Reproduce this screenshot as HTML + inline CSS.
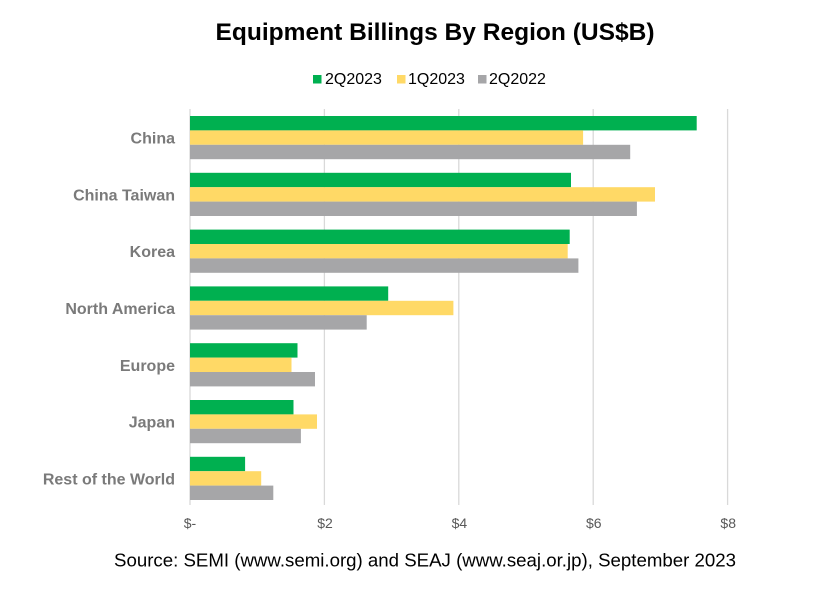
<!DOCTYPE html>
<html>
<head>
<meta charset="utf-8">
<style>
  html, body { margin: 0; padding: 0; background: #ffffff; }
  svg { display: block; }
  text { font-family: "Liberation Sans", Arial, sans-serif; }
</style>
</head>
<body>
<svg width="824" height="592" viewBox="0 0 824 592" xmlns="http://www.w3.org/2000/svg">
  <rect x="0" y="0" width="824" height="592" fill="#ffffff"/>

  <!-- Title -->
  <text x="435" y="40" font-size="24" font-weight="bold" fill="#000000" text-anchor="middle" textLength="439" lengthAdjust="spacingAndGlyphs">Equipment Billings By Region (US$B)</text>

  <!-- Legend -->
  <rect x="313" y="75" width="8.5" height="8.5" fill="#00b050"/>
  <text x="325" y="84" font-size="16" fill="#000000">2Q2023</text>
  <rect x="397" y="75" width="8.5" height="8.5" fill="#ffd966"/>
  <text x="408" y="84" font-size="16" fill="#000000">1Q2023</text>
  <rect x="478" y="75" width="8.5" height="8.5" fill="#a6a6a8"/>
  <text x="489" y="84" font-size="16" fill="#000000">2Q2022</text>

  <!-- Gridlines -->
  <g stroke="#d9d9d9" stroke-width="1.3">
    <line x1="190" y1="109" x2="190" y2="505"/>
    <line x1="324.4" y1="109" x2="324.4" y2="505"/>
    <line x1="458.8" y1="109" x2="458.8" y2="505"/>
    <line x1="593.2" y1="109" x2="593.2" y2="505"/>
    <line x1="727.6" y1="109" x2="727.6" y2="505"/>
  </g>

  <!-- Bars -->
  <rect x="190" y="116" width="506.7" height="14.4" fill="#00b050"/>
  <rect x="190" y="130.4" width="393.1" height="14.4" fill="#ffd966"/>
  <rect x="190" y="144.8" width="440.2" height="14.4" fill="#a6a6a8"/>

  <rect x="190" y="172.8" width="381.0" height="14.4" fill="#00b050"/>
  <rect x="190" y="187.2" width="465.0" height="14.4" fill="#ffd966"/>
  <rect x="190" y="201.6" width="446.9" height="14.4" fill="#a6a6a8"/>

  <rect x="190" y="229.6" width="379.7" height="14.4" fill="#00b050"/>
  <rect x="190" y="244.0" width="377.7" height="14.4" fill="#ffd966"/>
  <rect x="190" y="258.4" width="388.4" height="14.4" fill="#a6a6a8"/>

  <rect x="190" y="286.4" width="198.2" height="14.4" fill="#00b050"/>
  <rect x="190" y="300.8" width="263.4" height="14.4" fill="#ffd966"/>
  <rect x="190" y="315.2" width="176.7" height="14.4" fill="#a6a6a8"/>

  <rect x="190" y="343.2" width="107.5" height="14.4" fill="#00b050"/>
  <rect x="190" y="357.6" width="101.5" height="14.4" fill="#ffd966"/>
  <rect x="190" y="372.0" width="125.0" height="14.4" fill="#a6a6a8"/>

  <rect x="190" y="400.0" width="103.5" height="14.4" fill="#00b050"/>
  <rect x="190" y="414.4" width="127.0" height="14.4" fill="#ffd966"/>
  <rect x="190" y="428.8" width="110.9" height="14.4" fill="#a6a6a8"/>

  <rect x="190" y="456.8" width="55.1" height="14.4" fill="#00b050"/>
  <rect x="190" y="471.2" width="71.2" height="14.4" fill="#ffd966"/>
  <rect x="190" y="485.6" width="83.3" height="14.4" fill="#a6a6a8"/>

  <!-- Category labels -->
  <g font-size="16" font-weight="bold" fill="#7a7a7a" text-anchor="end">
    <text x="175" y="143.6">China</text>
    <text x="175" y="200.4">China Taiwan</text>
    <text x="175" y="257.2">Korea</text>
    <text x="175" y="314.0">North America</text>
    <text x="175" y="370.8">Europe</text>
    <text x="175" y="427.6">Japan</text>
    <text x="175" y="484.4">Rest of the World</text>
  </g>

  <!-- X tick labels -->
  <g font-size="14" fill="#595959" text-anchor="middle">
    <text x="190" y="528">$-</text>
    <text x="325" y="528">$2</text>
    <text x="459.4" y="528">$4</text>
    <text x="593.8" y="528">$6</text>
    <text x="728.2" y="528">$8</text>
  </g>

  <!-- Footer -->
  <text x="114" y="566.5" font-size="18.5" fill="#000000" textLength="622" lengthAdjust="spacingAndGlyphs">Source: SEMI (www.semi.org) and SEAJ (www.seaj.or.jp), September 2023</text>
</svg>
</body>
</html>
